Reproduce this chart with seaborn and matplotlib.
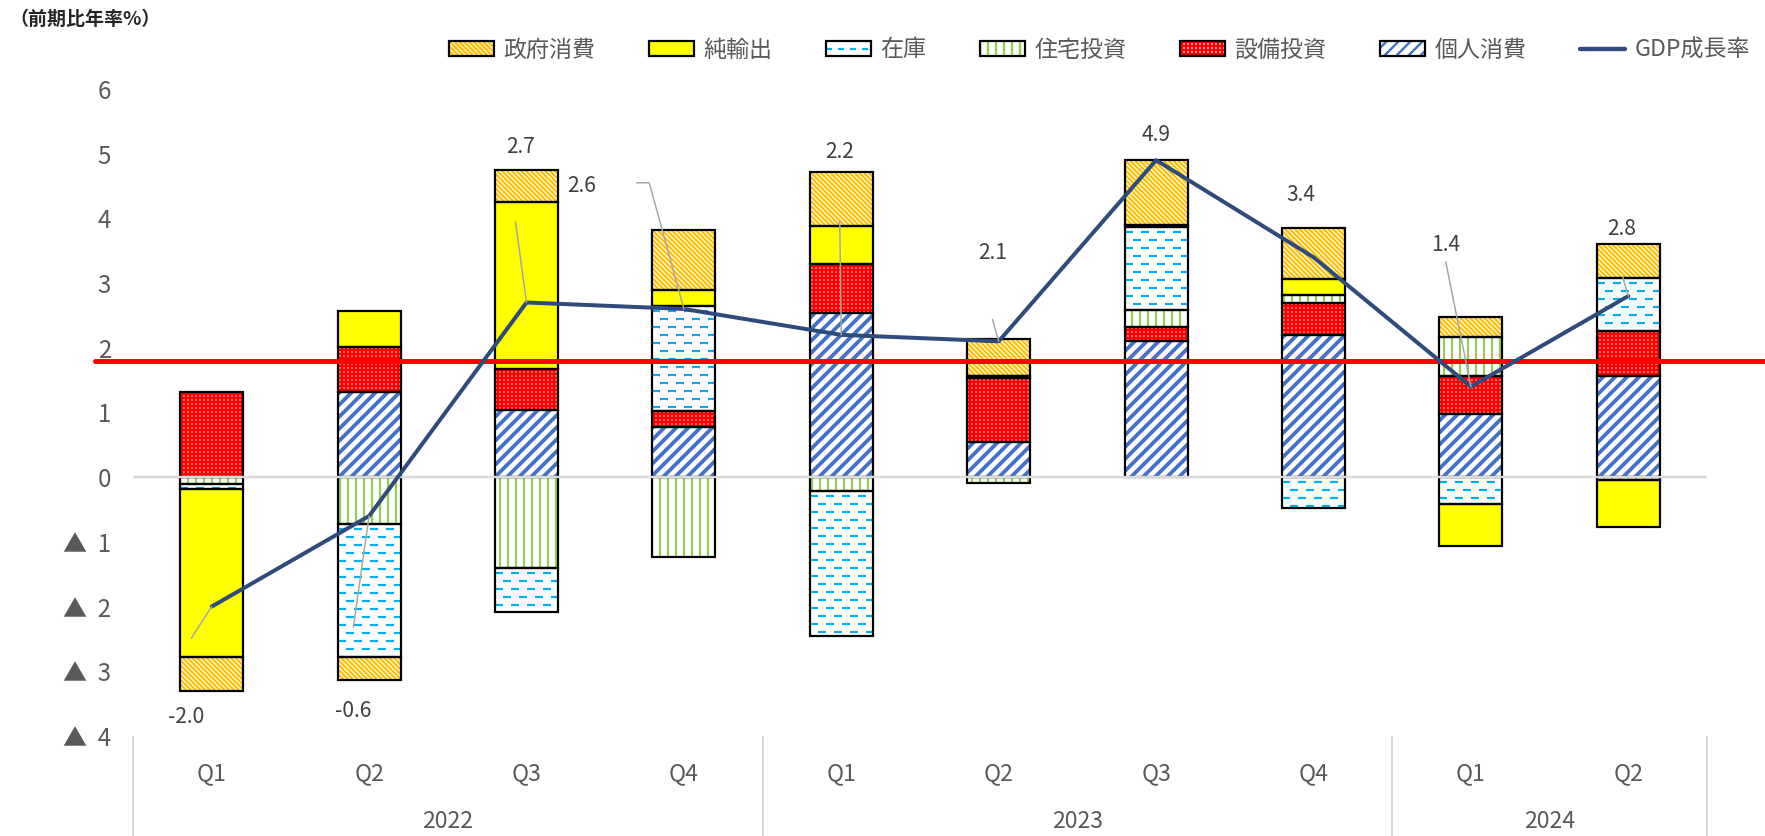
import numpy as np
import pandas as pd
import matplotlib
matplotlib.use("Agg")
import matplotlib.pyplot as plt
from matplotlib.patches import Patch
from matplotlib.lines import Line2D
import seaborn as sns

# ---------------------------------------------------------------- data
periods = ["2022Q1", "2022Q2", "2022Q3", "2022Q4",
           "2023Q1", "2023Q2", "2023Q3", "2023Q4",
           "2024Q1", "2024Q2"]
quarter_labels = ["Q1", "Q2", "Q3", "Q4", "Q1", "Q2", "Q3", "Q4", "Q1", "Q2"]
years = ["2022", "2023", "2024"]
year_first_idx = [0, 4, 8]
year_last_idx = [3, 7, 9]

# contributions to growth (percentage points, annualised q/q)
personal    = [0.00, 1.31, 1.04, 0.78, 2.54, 0.55, 2.11, 2.20, 0.98, 1.57]
equipment   = [1.32, 0.71, 0.63, 0.25, 0.76, 0.99, 0.21, 0.50, 0.59, 0.69]
housing     = [-0.10, -0.72, -1.41, -1.24, -0.22, -0.09, 0.26, 0.11, 0.59, -0.04]
inventory   = [-0.09, -2.06, -0.67, 1.61, -2.23, 0.03, 1.29, -0.48, -0.42, 0.82]
net_exports = [-2.59, 0.55, 2.59, 0.26, 0.59, 0.00, 0.03, 0.25, -0.65, -0.73]
government  = [-0.53, -0.35, 0.49, 0.92, 0.82, 0.57, 1.01, 0.79, 0.31, 0.53]
gdp_growth  = [-2.0, -0.6, 2.7, 2.6, 2.2, 2.1, 4.9, 3.4, 1.4, 2.8]
potential_growth = 1.8

y_ticks = [-4, -3, -2, -1, 0, 1, 2, 3, 4, 5, 6]

# ---------------------------------------------------------------- layout
W, H, DPI = 1765, 836, 144
AX_LEFT, AX_RIGHT, AX_TOP, AX_BOTTOM = 133, 1707, 89, 736   # pixels
BAR_WIDTH = 0.4

# data-label centres and leader-line start points (data coords)
label_pos = [(-0.16, -3.70), (0.90, -3.62), (1.96, 5.10), (2.35, 4.50),
             (3.99, 5.03), (4.96, 3.47), (6.00, 5.29), (6.92, 4.36),
             (7.84, 3.59), (8.96, 3.83)]
leader_path = [[(-0.13, -2.49)], [(0.90, -2.32)], [(1.93, 3.95)],
               [(2.70, 4.55), (2.78, 4.55)], [(3.99, 3.96)],
               [(4.96, 2.44)], None, None, [(7.84, 3.33)], [(8.965, 3.09)]]

# ---------------------------------------------------------------- style
sns.set_theme(style="white")
plt.rcParams["font.family"] = ["Noto Sans CJK JP", "DejaVu Sans"]
plt.rcParams["lines.scale_dashes"] = False
plt.rcParams["axes.unicode_minus"] = False
plt.rcParams["hatch.linewidth"] = 1.2

TEXT_GRAY = "#595959"
NAVY = "#2F4B7C"
CYAN = "#00B0F0"

# name, values, face, hatch colour, hatch, hatch linewidth
series = [
    ("個人消費", personal,    "white", "#4472C4", "////",       1.9),
    ("設備投資", equipment,   "white", "#FF0000", "++++++",     1.3),
    ("住宅投資", housing,     "white", "#92D050", "|||",        1.1),
    ("在庫",     inventory,   "white", "white",   None,         1.0),
    ("純輸出",   net_exports, "#FFFF00", "#FFFF00", None,       1.0),
    ("政府消費", government,  "white", "#FFC000", "\\" * 10,    1.1),
]


def apply_hatch_lw(patches, lw):
    for p in patches:
        if hasattr(p, "set_hatch_linewidth"):
            p.set_hatch_linewidth(lw)


fig = plt.figure(figsize=(W / DPI, H / DPI), dpi=DPI)
ax = fig.add_axes([AX_LEFT / W, (H - AX_BOTTOM) / H,
                   (AX_RIGHT - AX_LEFT) / W, (AX_BOTTOM - AX_TOP) / H])
ax.set_ylim(y_ticks[0], y_ticks[-1])
px_per_unit = (AX_BOTTOM - AX_TOP) / (y_ticks[-1] - y_ticks[0])

pos_base = np.zeros(len(periods))
neg_base = np.zeros(len(periods))
inventory_rects = None

for name, vals, face, hcolor, hatch, hlw in series:
    vals = np.asarray(vals, dtype=float)
    bottom = np.where(vals >= 0, pos_base, neg_base)
    with plt.rc_context({"hatch.linewidth": hlw}):
        sns.barplot(x=periods, y=vals, order=periods, bottom=bottom,
                    width=BAR_WIDTH, errorbar=None, saturation=1,
                    color=face, facecolor=face, edgecolor=hcolor, hatch=hatch,
                    linewidth=0, zorder=2, ax=ax)
    fill_rects = list(ax.containers[-1])
    apply_hatch_lw(fill_rects, hlw)
    if name == "在庫":
        inventory_rects = fill_rects
    sns.barplot(x=periods, y=vals, order=periods, bottom=bottom,
                width=BAR_WIDTH, errorbar=None, saturation=1,
                color="black", facecolor="none", edgecolor="black",
                linewidth=1.1, zorder=3, ax=ax)
    pos_base = pos_base + np.where(vals >= 0, vals, 0)
    neg_base = neg_base + np.where(vals < 0, vals, 0)

# dashed texture of the inventory segments
row_step = 8 / px_per_unit
for rect in inventory_rects:
    y0 = rect.get_y()
    y1 = y0 + rect.get_height()
    lo, hi = min(y0, y1), max(y0, y1)
    if hi - lo <= 0:
        continue
    x0 = rect.get_x()
    x1 = x0 + rect.get_width()
    rows = np.arange(hi - 0.6 * row_step, lo, -row_step)
    for k, offset in enumerate((0, 4)):
        ys = rows[k::2]
        if len(ys) == 0:
            continue
        lc = ax.hlines(ys, x0, x1, colors=CYAN, linewidth=1.1,
                       linestyles=[(offset, (4, 4))], zorder=2.2)
        lc.set_clip_path(rect)

# zero line and potential-growth line
ax.axhline(0, color="#D9D9D9", lw=1.2, zorder=4)
ax.axhline(potential_growth, xmin=(95 - AX_LEFT) / (AX_RIGHT - AX_LEFT),
           xmax=1.04, color="#FF0000", lw=2.5, zorder=5, clip_on=False)

# GDP growth line
x_pos = np.arange(len(periods))
sns.lineplot(x=x_pos, y=gdp_growth, color=NAVY, linewidth=2.0,
             zorder=6, ax=ax, legend=False)

# data labels with leader lines
for i, v in enumerate(gdp_growth):
    lx, ly = label_pos[i]
    ax.text(lx, ly, f"{v:.1f}", ha="center", va="center", fontsize=10.5,
            color="#404040", zorder=8)
    if leader_path[i] is not None:
        pts = leader_path[i] + [(x_pos[i], v)]
        ax.plot([p[0] for p in pts], [p[1] for p in pts],
                color="#A6A6A6", lw=0.75, zorder=7)

# axes decoration
ax.set_xlim(-0.5, len(periods) - 0.5)
ax.set_ylim(y_ticks[0], y_ticks[-1])
ax.set_yticks(y_ticks)
ax.set_yticklabels([f"▲  {-t}" if t < 0 else f"{t}" for t in y_ticks])
ax.set_xticks(x_pos)
ax.set_xticklabels(quarter_labels)
ax.tick_params(axis="y", length=0, pad=11, labelsize=12, labelcolor=TEXT_GRAY)
ax.tick_params(axis="x", length=0, pad=13, labelsize=11.5, labelcolor=TEXT_GRAY)
ax.set_xlabel("")
ax.set_ylabel("")
for s in ax.spines.values():
    s.set_visible(False)
ax.grid(False)

xt = ax.get_xaxis_transform()
year_y = -(822 - AX_BOTTOM) / (AX_BOTTOM - AX_TOP)
for yr, a, b in zip(years, year_first_idx, year_last_idx):
    ax.text((a + b) / 2, year_y, yr, transform=xt, ha="center", va="center",
            fontsize=11.5, color=TEXT_GRAY)
bounds = [year_first_idx[0] - 0.5] + [b + 0.5 for b in year_last_idx]
ax.vlines(bounds, -(H - AX_BOTTOM) / (AX_BOTTOM - AX_TOP), 0, transform=xt,
          colors="#D9D9D9", lw=1.0, clip_on=False)

# unit label
fig.text(9 / W, 1 - 19 / H, "（前期比年率%）", ha="left", va="center",
         fontsize=9.5, fontweight="bold", color="#262626")

# legend
handles, labels = [], []
legend_order = ["政府消費", "純輸出", "在庫", "住宅投資", "設備投資", "個人消費"]
style_by_name = {s[0]: s for s in series}
for name in legend_order:
    _, _, face, hcolor, hatch, hlw = style_by_name[name]
    with plt.rc_context({"hatch.linewidth": hlw}):
        fill = Patch(facecolor=face, edgecolor=hcolor, hatch=hatch, linewidth=0)
    apply_hatch_lw([fill], hlw)
    outline = Patch(facecolor="none", edgecolor="black", linewidth=1.1)
    if name == "在庫":
        dash = Line2D([], [], color=CYAN, lw=1.1, ls=(0, (3, 3)))
        handles.append((fill, dash, outline))
    else:
        handles.append((fill, outline))
    labels.append(name)
handles.append(Line2D([], [], color=NAVY, lw=2.2))
labels.append("GDP成長率")
fig.legend(handles, labels, loc="center right",
           bbox_to_anchor=(1750 / W, 1 - 50 / H), ncol=7, frameon=False,
           fontsize=11.5, handlelength=1.95, handleheight=0.65,
           handletextpad=0.4, columnspacing=2.35, borderpad=0,
           borderaxespad=0, labelcolor=TEXT_GRAY)

fig.savefig("out.png", dpi=DPI)
